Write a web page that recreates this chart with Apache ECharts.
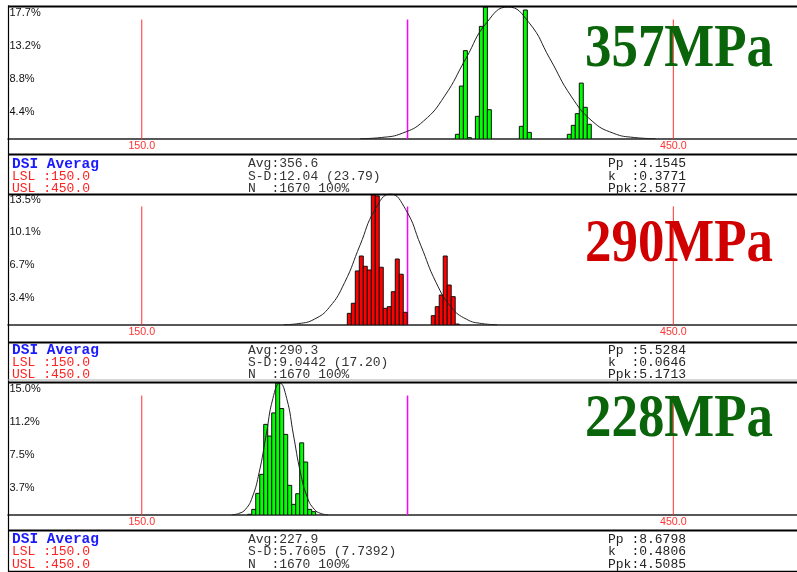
<!DOCTYPE html>
<html><head><meta charset="utf-8">
<script src="https://cdn.jsdelivr.net/npm/echarts@6/dist/echarts.min.js"></script>
<style>html,body{margin:0;padding:0;background:#fff}#c{width:797px;height:572px}</style>
</head><body><div id="c"></div>
<script>
// ---------------- data ----------------
const LSL = 150, USL = 450, TARGET = 300;
const binWidth = 2.2556;
const panelLabels = ['357MPa', '290MPa', '228MPa'];
const yMax = [17.7, 13.5, 15.0];
const yTickLabels1 = ['4.4%', '8.8%', '13.2%', '17.7%'];
const yTickLabels2 = ['3.4%', '6.7%', '10.1%', '13.5%'];
const yTickLabels3 = ['3.7%', '7.5%', '11.2%', '15.0%'];
const binStart = [327.0, 266.0, 209.8];
const hist1 = [0.63, 7.1, 11.85, 0.18, 0, 3.04, 15.1, 17.7, 3.93, 0, 0, 0, 0, 0, 0, 0,
               1.7, 17.3, 0.89, 0, 0, 0, 0, 0, 0, 0, 0, 0, 0.63, 1.83, 3.4, 7.5, 4.25, 1.97];
const hist2 = [1.2, 2.24, 5.57, 7.11, 6.05, 5.67, 13.5, 13.3, 5.95, 1.72, 1.89, 3.43, 6.8, 5.23, 1.31,
               0, 0, 0, 0, 0, 0, 0.96, 1.89, 3.09, 7.11, 4.12, 2.92, 0.1];
const hist3 = [0.08, 0.64, 2.46, 4.62, 10.3, 8.97, 11.6, 15.0, 12.1, 9.16, 3.37, 1.21, 2.42, 8.2, 6.02, 0.64, 0.38];
const curve1X = [273.3, 285.2, 297.1, 309.0, 320.9, 332.8, 344.7, 356.6, 368.5, 380.4, 392.3, 404.2, 416.1, 428.0, 439.9];
const curve1Y = [0.04, 0.20, 0.78, 2.40, 5.75, 10.74, 15.62, 17.7, 15.62, 10.74, 5.75, 2.40, 0.78, 0.20, 0.04];
const curve2X = [230.1, 238.7, 247.3, 255.9, 264.5, 273.1, 281.7, 290.3, 298.9, 307.5, 316.1, 324.7, 333.3, 341.9, 350.5];
const curve2Y = [0.03, 0.15, 0.59, 1.83, 4.38, 8.19, 11.91, 13.5, 11.91, 8.19, 4.38, 1.83, 0.59, 0.15, 0.03];
const curve3X = [200.8, 204.7, 208.6, 212.4, 216.3, 220.2, 224.0, 227.9, 231.8, 235.6, 239.5, 243.4, 247.3, 251.1, 255.0];
const curve3Y = [0.03, 0.17, 0.66, 2.03, 4.87, 9.10, 13.24, 15.0, 13.24, 9.10, 4.87, 2.03, 0.66, 0.17, 0.03];
const avgText = ['356.6', '290.3', '227.9'];
const sdText = ['12.04 (23.79)', '9.0442 (17.20)', '5.7605 (7.7392)'];
const nText = ['1670 100%', '1670 100%', '1670 100%'];
const ppText = ['4.1545', '5.5284', '8.6798'];
const kText = ['0.3771', '0.0646', '0.4806'];
const ppkText = ['2.5877', '5.1713', '4.5085'];

// ---------------- layout / style ----------------
const hists = [hist1, hist2, hist3];
const curvesX = [curve1X, curve2X, curve3X];
const curvesY = [curve1Y, curve2Y, curve3Y];
const tickLabels = [yTickLabels1, yTickLabels2, yTickLabels3];
const gridTop = [7, 194, 383];
const gridH = [132, 131, 132];
const barColors = ['#00ff00', '#ff0000', '#00ff00'];
const titleColors = ['#0a640a', '#d00000', '#0a640a'];
const titleY = [50, 245, 420];
const infoY = [164, 350.3, 539.5];
const lineFrac = 0.905;
const specLines = [
  {v: LSL, color: '#ff3030', width: 1},
  {v: USL, color: '#ff3030', width: 1},
  {v: TARGET, color: '#ff00ff', width: 1.5}
];

const grids = [], xAxes = [], yAxes = [], series = [];
for (let i = 0; i < 3; i++) {
  const M = yMax[i];
  grids.push({left: 8, width: 789, top: gridTop[i], height: gridH[i]});
  xAxes.push({
    type: 'value', gridIndex: i, min: 74.5, max: 519.8,
    axisLine: {show: true, lineStyle: {color: '#222', width: 1.5}},
    axisTick: {show: false}, splitLine: {show: false},
    axisLabel: {
      customValues: [LSL, USL], formatter: v => v.toFixed(1),
      color: '#ff3333', fontSize: 10.7, fontFamily: 'Liberation Sans', margin: 2
    }
  });
  const labs = tickLabels[i];
  yAxes.push({
    type: 'value', gridIndex: i, min: 0, max: M,
    axisLine: {show: false}, axisTick: {show: false}, splitLine: {show: false},
    axisLabel: {
      inside: true, customValues: [M / 4, M / 2, 3 * M / 4, M],
      formatter: v => labs[Math.round(v / (M / 4)) - 1] || '',
      color: '#111', fontSize: 11, fontFamily: 'Liberation Sans',
      align: 'left', verticalAlign: 'top', margin: 1.5
    }
  });
  const data = [];
  hists[i].forEach((v, j) => {
    if (v > 0) data.push([binStart[i] + j * binWidth, binStart[i] + (j + 1) * binWidth, v]);
  });
  const fillC = barColors[i];
  specLines.forEach(s => {
    series.push({
      type: 'line', xAxisIndex: i, yAxisIndex: i, showSymbol: false, silent: true,
      data: [[s.v, 0], [s.v, M * lineFrac]],
      lineStyle: {color: s.color, width: s.width}, itemStyle: {color: s.color}, z: 1
    });
  });
  series.push({
    type: 'custom', xAxisIndex: i, yAxisIndex: i, clip: true,
    encode: {x: [0, 1], y: 2},
    data: data,
    renderItem: function (params, api) {
      const a = api.coord([api.value(0), api.value(2)]);
      const b = api.coord([api.value(1), 0]);
      return {type: 'rect', shape: {x: a[0], y: a[1], width: b[0] - a[0], height: b[1] - a[1]},
              style: {fill: fillC, stroke: '#111', lineWidth: 1}};
    },
    z: 2
  });
  series.push({
    type: 'line', xAxisIndex: i, yAxisIndex: i, smooth: true, showSymbol: false,
    data: curvesX[i].map((x, j) => [x, curvesY[i][j]]),
    lineStyle: {color: '#222', width: 1}, itemStyle: {color: '#222'}, z: 3
  });
}

const graphics = [];
function hline(y, w, c) {
  graphics.push({type: 'line', shape: {x1: 8, y1: y, x2: 797, y2: y}, style: {stroke: c || '#000', lineWidth: w}, z: 10});
}
function txt(x, y, s, color, size, bold) {
  graphics.push({type: 'text', x: x, y: y, z: 11,
    style: {text: s, fill: color, font: (bold ? 'bold ' : '') + size + 'px "Liberation Mono"', align: 'left', verticalAlign: 'middle'}});
}
graphics.push({type: 'line', shape: {x1: 8.5, y1: 5.5, x2: 8.5, y2: 572}, style: {stroke: '#000', lineWidth: 1.2}, z: 10});
hline(6.5, 2); hline(154.5, 2); hline(194.5, 2);
hline(342.5, 2); hline(380, 1, '#aaa'); hline(382.5, 2);
hline(530.5, 2); hline(571.5, 1.5);
for (let i = 0; i < 3; i++) {
  const y0 = infoY[i], dy = 12.3;
  txt(12, y0, 'DSI Averag', '#1a1aff', 14.5, true);
  txt(12, y0 + dy, 'LSL :' + LSL.toFixed(1), '#ff2020', 13);
  txt(12, y0 + 2 * dy, 'USL :' + USL.toFixed(1), '#ff2020', 13);
  txt(248, y0, 'Avg:' + avgText[i], '#333', 13);
  txt(248, y0 + dy, 'S-D:' + sdText[i], '#333', 13);
  txt(248, y0 + 2 * dy, 'N  :' + nText[i], '#333', 13);
  txt(608, y0, 'Pp :' + ppText[i], '#222', 13);
  txt(608, y0 + dy, 'k  :' + kText[i], '#222', 13);
  txt(608, y0 + 2 * dy, 'Ppk:' + ppkText[i], '#222', 13);
  graphics.push({type: 'text', x: 585, y: titleY[i], scaleX: 0.867, z: 12,
    style: {text: panelLabels[i], fill: titleColors[i], font: 'bold 61px "Liberation Serif"', align: 'left', verticalAlign: 'middle'}});
}

const chart = echarts.init(document.getElementById('c'));
chart.setOption({
  animation: false,
  backgroundColor: '#fff',
  grid: grids, xAxis: xAxes, yAxis: yAxes, series: series,
  graphic: graphics
});
</script>
</body></html>
